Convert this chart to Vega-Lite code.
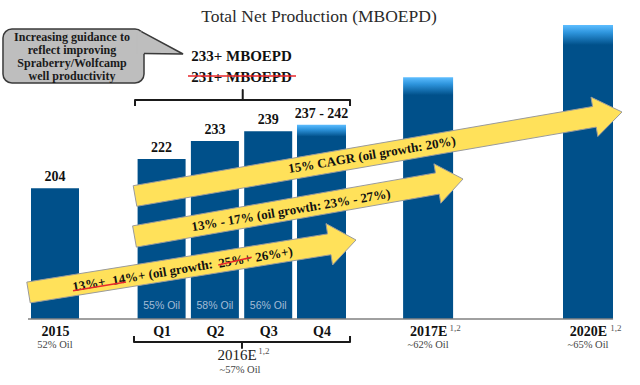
{
  "$schema": "https://vega.github.io/schema/vega-lite/v6.json",
  "width": 640,
  "height": 319,
  "padding": {"left": 0, "right": 0, "top": 0, "bottom": 66},
  "autosize": {"type": "none"},
  "background": "white",
  "config": {"view": {"stroke": null}},
  "datasets": {
    "cats": [
      {"cat": "2015", "slot": 0, "value": 204, "label": "204", "fade": "none"},
      {"cat": "Q1", "slot": 2, "value": 222, "label": "222", "fade": "none"},
      {"cat": "Q2", "slot": 3, "value": 233, "label": "233", "fade": "none"},
      {"cat": "Q3", "slot": 4, "value": 239, "label": "239", "fade": "none"},
      {"cat": "Q4", "slot": 5, "value": 243, "label": "237 - 242", "fade": "short"},
      {"cat": "2017E", "slot": 7, "value": 272, "label": "", "fade": "long"},
      {"cat": "2020E", "slot": 10, "value": 304, "label": "", "fade": "long"}
    ],
    "base": [
      {"x": -0.507, "x2": 10.47, "y": 124}
    ],
    "texts": [
      {"kind": "title", "x": 4.953, "y": 308.9, "text": "Total Net Production (MBOEPD)"},
      {"kind": "callout", "x": 0.319, "y": 296.69, "text": "Increasing guidance to\nreflect improving\nSpraberry/Wolfcamp\nwell productivity"},
      {"kind": "big", "x": 3.499, "y": 285.05, "text": "233+ MBOEPD"},
      {"kind": "big", "x": 3.499, "y": 272.19, "text": "231+ MBOEPD"},
      {"kind": "year", "x": 3.415, "y": 101.95, "text": "2016E"},
      {"kind": "sup", "x": 3.921, "y": 104.4, "text": "1,2"},
      {"kind": "sup", "x": 7.505, "y": 118.49, "text": "1,2"},
      {"kind": "sup", "x": 10.525, "y": 118.49, "text": "1,2"},
      {"kind": "oil", "x": 3.471, "y": 92.77, "text": "~57% Oil"},
      {"kind": "oil", "x": 0, "y": 108.38, "text": "52% Oil"},
      {"kind": "oil", "x": 7, "y": 108.38, "text": "~62% Oil"},
      {"kind": "oil", "x": 10, "y": 108.38, "text": "~65% Oil"},
      {"kind": "inside", "x": 2, "y": 131.96, "text": "55% Oil"},
      {"kind": "inside", "x": 3, "y": 131.96, "text": "58% Oil"},
      {"kind": "inside", "x": 4, "y": 131.96, "text": "56% Oil"},
      {"kind": "arrow", "x": 5.947, "y": 224.43, "text": "15% CAGR (oil growth: 20%)"},
      {"kind": "arrow", "x": 4.428, "y": 190.44, "text": "13% - 17% (oil growth: 23% - 27%)"},
      {"kind": "arrow", "x": 0.638, "y": 145.13, "text": "13%+"},
      {"kind": "arrow", "x": 2.017, "y": 152.48, "text": "14%+ (oil growth:"},
      {"kind": "arrow", "x": 3.377, "y": 159.58, "text": "25%+"},
      {"kind": "arrow", "x": 4.109, "y": 163.44, "text": "26%+)"}
    ],
    "strikes": [
      {"x": 0.338, "y": 141.33, "x2": 1.332, "y2": 146.66},
      {"x": 3.064, "y": 157.07, "x2": 3.69, "y2": 161.78},
      {"x": 2.495, "y": 272.8, "x2": 4.522, "y2": 272.8}
    ],
    "box": [
      {"x": -0.976, "x2": 1.67, "y": 301.59, "y2": 268.52}
    ],
    "paths": [
      {"id": "tb", "i": 1, "x": 1.501, "y": 254.43},
      {"id": "tb", "i": 2, "x": 1.501, "y": 258.11},
      {"id": "tb", "i": 3, "x": 3.522, "y": 258.11},
      {"id": "tb", "i": 4, "x": 3.522, "y": 264.23},
      {"id": "tb", "i": 5, "x": 3.522, "y": 258.11},
      {"id": "tb", "i": 6, "x": 5.535, "y": 258.11},
      {"id": "tb", "i": 7, "x": 5.535, "y": 254.43},
      {"id": "bb", "i": 1, "x": 1.482, "y": 113.59},
      {"id": "bb", "i": 2, "x": 1.482, "y": 109.92},
      {"id": "bb", "i": 3, "x": 3.508, "y": 109.92},
      {"id": "bb", "i": 4, "x": 3.508, "y": 106.24},
      {"id": "bb", "i": 5, "x": 3.508, "y": 109.92},
      {"id": "bb", "i": 6, "x": 5.535, "y": 109.92},
      {"id": "bb", "i": 7, "x": 5.535, "y": 113.59},
      {"id": "pe", "i": 1, "x": 1.621, "y": 299.99},
      {"id": "pe", "i": 2, "x": 2.402, "y": 286.28},
      {"id": "pe", "i": 3, "x": 1.67, "y": 286.58}
    ],
    "polys": [
      {"id": "pf", "i": 1, "x": 1.538, "y": 299.14},
      {"id": "pf", "i": 2, "x": 1.621, "y": 299.99},
      {"id": "pf", "i": 3, "x": 2.402, "y": 286.28},
      {"id": "pf", "i": 4, "x": 1.67, "y": 286.58},
      {"id": "pf", "i": 5, "x": 1.538, "y": 286.58},
      {"id": "pf", "i": 6, "x": 1.538, "y": 299.14},
      {"id": "a1", "i": 1, "x": 1.467, "y": 205.63},
      {"id": "a1", "i": 2, "x": 10.086, "y": 254.13},
      {"id": "a1", "i": 3, "x": 10.056, "y": 259.88},
      {"id": "a1", "i": 4, "x": 10.638, "y": 250.76},
      {"id": "a1", "i": 5, "x": 10.184, "y": 235.76},
      {"id": "a1", "i": 6, "x": 10.154, "y": 241.51},
      {"id": "a1", "i": 7, "x": 1.535, "y": 193.01},
      {"id": "a1", "i": 8, "x": 1.467, "y": 205.63},
      {"id": "a2", "i": 1, "x": 1.456, "y": 181.01},
      {"id": "a2", "i": 2, "x": 7.139, "y": 213.47},
      {"id": "a2", "i": 3, "x": 7.109, "y": 219.04},
      {"id": "a2", "i": 4, "x": 7.655, "y": 209.73},
      {"id": "a2", "i": 5, "x": 7.238, "y": 194.91},
      {"id": "a2", "i": 6, "x": 7.21, "y": 200.49},
      {"id": "a2", "i": 7, "x": 1.527, "y": 168.03},
      {"id": "a2", "i": 8, "x": 1.456, "y": 181.01},
      {"id": "a3", "i": 1, "x": -0.529, "y": 146.6},
      {"id": "a3", "i": 2, "x": 5.114, "y": 176.11},
      {"id": "a3", "i": 3, "x": 5.084, "y": 182.42},
      {"id": "a3", "i": 4, "x": 5.647, "y": 172.38},
      {"id": "a3", "i": 5, "x": 5.208, "y": 157.07},
      {"id": "a3", "i": 6, "x": 5.178, "y": 163.38},
      {"id": "a3", "i": 7, "x": -0.465, "y": 133.86},
      {"id": "a3", "i": 8, "x": -0.529, "y": 146.6}
    ]
  },
  "layer": [
    {
      "data": {"name": "cats"},
      "transform": [{"filter": "datum.fade === 'none'"}],
      "mark": {"type": "bar", "width": 48, "color": "#00508A", "clip": true},
      "encoding": {
        "x": {
          "field": "slot", "type": "quantitative",
          "scale": {"domain": [-1.0319, 10.9756], "nice": false, "zero": false, "padding": 0},
          "axis": {
            "values": [0, 2, 3, 4, 5, 7, 10],
            "labelExpr": "datum.value == 0 ? '2015' : datum.value == 2 ? 'Q1' : datum.value == 3 ? 'Q2' : datum.value == 4 ? 'Q3' : datum.value == 5 ? 'Q4' : datum.value == 7 ? '2017E' : '2020E'",
            "domain": false, "ticks": false, "grid": false, "title": null, "zindex": 1,
            "labelFont": "Liberation Serif", "labelFontWeight": "bold", "labelFontSize": 14,
            "labelColor": "#111111", "labelPadding": 5, "labelOverlap": false, "labelFlush": false
          }
        },
        "y": {"field": "value", "type": "quantitative", "axis": null, "scale": {"domain": [124, 319.35], "nice": false, "zero": false, "padding": 0}}
      }
    },
    {
      "data": {"name": "cats"},
      "transform": [{"filter": "datum.fade === 'short'"}],
      "mark": {"type": "bar", "width": 49, "clip": true, "color": {"gradient": "linear", "x1": 0, "y1": 0, "x2": 0, "y2": 1, "stops": [{"offset": 0, "color": "#5DBDFF"}, {"offset": 0.012, "color": "#2E95DD"}, {"offset": 0.03, "color": "#00508A"}, {"offset": 1, "color": "#00508A"}]}},
      "encoding": {
        "x": {"field": "slot", "type": "quantitative"},
        "y": {"field": "value", "type": "quantitative", "axis": null}
      }
    },
    {
      "data": {"name": "cats"},
      "transform": [{"filter": "datum.fade === 'long'"}],
      "mark": {"type": "bar", "width": 50, "clip": true, "color": {"gradient": "linear", "x1": 0, "y1": 0, "x2": 0, "y2": 1, "stops": [{"offset": 0, "color": "#5DBDFF"}, {"offset": 0.015, "color": "#2E95DD"}, {"offset": 0.04, "color": "#00508A"}, {"offset": 1, "color": "#00508A"}]}},
      "encoding": {
        "x": {"field": "slot", "type": "quantitative"},
        "y": {"field": "value", "type": "quantitative", "axis": null}
      }
    },
    {
      "data": {"name": "base"},
      "mark": {"type": "rule", "color": "#808080", "strokeWidth": 1.5},
      "encoding": {
        "x": {"field": "x", "type": "quantitative"},
        "x2": {"field": "x2"},
        "y": {"field": "y", "type": "quantitative", "axis": null}
      }
    },
    {
      "data": {"name": "cats"},
      "mark": {"type": "text", "font": "Liberation Serif", "fontWeight": "bold", "fontSize": 14, "color": "#111111", "baseline": "middle", "align": "center", "dy": -11},
      "encoding": {
        "x": {"field": "slot", "type": "quantitative"},
        "y": {"field": "value", "type": "quantitative", "axis": null},
        "text": {"field": "label"}
      }
    },
    {
      "data": {"name": "box"},
      "mark": {"type": "rect", "fill": "#BEBEBE", "stroke": "#3A3A3A", "strokeWidth": 1.5, "cornerRadius": 9},
      "encoding": {
        "x": {"field": "x", "type": "quantitative"},
        "x2": {"field": "x2"},
        "y": {"field": "y", "type": "quantitative", "axis": null},
        "y2": {"field": "y2"}
      }
    },
    {
      "data": {"name": "polys"},
      "transform": [{"filter": "datum.id === 'pf'"}],
      "mark": {"type": "line", "fill": "#BEBEBE", "stroke": "#BEBEBE", "strokeWidth": 0.5},
      "encoding": {
        "x": {"field": "x", "type": "quantitative"},
        "y": {"field": "y", "type": "quantitative", "axis": null},
        "order": {"field": "i", "type": "quantitative"},
        "detail": {"field": "id", "type": "nominal"}
      }
    },
    {
      "data": {"name": "polys"},
      "transform": [{"filter": "datum.id !== 'pf'"}],
      "mark": {"type": "line", "fill": "#FFE15A", "stroke": "#9B9B9B", "strokeWidth": 1, "strokeJoin": "miter"},
      "encoding": {
        "x": {"field": "x", "type": "quantitative"},
        "y": {"field": "y", "type": "quantitative", "axis": null},
        "order": {"field": "i", "type": "quantitative"},
        "detail": {"field": "id", "type": "nominal"}
      }
    },
    {
      "data": {"name": "paths"},
      "transform": [{"filter": "datum.id === 'pe'"}],
      "mark": {"type": "line", "color": "#3A3A3A", "strokeWidth": 1.5, "strokeJoin": "miter"},
      "encoding": {
        "x": {"field": "x", "type": "quantitative"},
        "y": {"field": "y", "type": "quantitative", "axis": null},
        "order": {"field": "i", "type": "quantitative"},
        "detail": {"field": "id", "type": "nominal"}
      }
    },
    {
      "data": {"name": "paths"},
      "transform": [{"filter": "datum.id !== 'pe'"}],
      "mark": {"type": "line", "color": "#1A1A1A", "strokeWidth": 2, "strokeJoin": "round"},
      "encoding": {
        "x": {"field": "x", "type": "quantitative"},
        "y": {"field": "y", "type": "quantitative", "axis": null},
        "order": {"field": "i", "type": "quantitative"},
        "detail": {"field": "id", "type": "nominal"}
      }
    },
    {
      "data": {"name": "texts"},
      "transform": [{"filter": "datum.kind === 'title'"}],
      "mark": {"type": "text", "font": "Liberation Serif", "fontSize": 17.5, "color": "#2B2B2B", "baseline": "middle", "align": "center"},
      "encoding": {
        "x": {"field": "x", "type": "quantitative"},
        "y": {"field": "y", "type": "quantitative", "axis": null},
        "text": {"field": "text"}
      }
    },
    {
      "data": {"name": "texts"},
      "transform": [{"filter": "datum.kind === 'callout'"}],
      "mark": {"type": "text", "font": "Liberation Serif", "fontWeight": "bold", "fontSize": 12, "color": "#1A1A1A", "baseline": "middle", "align": "center", "lineBreak": "\n", "lineHeight": 13},
      "encoding": {
        "x": {"field": "x", "type": "quantitative"},
        "y": {"field": "y", "type": "quantitative", "axis": null},
        "text": {"field": "text"}
      }
    },
    {
      "data": {"name": "texts"},
      "transform": [{"filter": "datum.kind === 'big'"}],
      "mark": {"type": "text", "font": "Liberation Serif", "fontWeight": "bold", "fontSize": 15, "color": "#111111", "baseline": "middle", "align": "center"},
      "encoding": {
        "x": {"field": "x", "type": "quantitative"},
        "y": {"field": "y", "type": "quantitative", "axis": null},
        "text": {"field": "text"}
      }
    },
    {
      "data": {"name": "texts"},
      "transform": [{"filter": "datum.kind === 'year'"}],
      "mark": {"type": "text", "font": "Liberation Serif", "fontSize": 15, "color": "#222222", "baseline": "middle", "align": "center"},
      "encoding": {
        "x": {"field": "x", "type": "quantitative"},
        "y": {"field": "y", "type": "quantitative", "axis": null},
        "text": {"field": "text"}
      }
    },
    {
      "data": {"name": "texts"},
      "transform": [{"filter": "datum.kind === 'sup'"}],
      "mark": {"type": "text", "font": "Liberation Serif", "fontSize": 9, "color": "#555555", "baseline": "middle", "align": "center"},
      "encoding": {
        "x": {"field": "x", "type": "quantitative"},
        "y": {"field": "y", "type": "quantitative", "axis": null},
        "text": {"field": "text"}
      }
    },
    {
      "data": {"name": "texts"},
      "transform": [{"filter": "datum.kind === 'oil'"}],
      "mark": {"type": "text", "font": "Liberation Serif", "fontSize": 10.5, "color": "#444444", "baseline": "middle", "align": "center"},
      "encoding": {
        "x": {"field": "x", "type": "quantitative"},
        "y": {"field": "y", "type": "quantitative", "axis": null},
        "text": {"field": "text"}
      }
    },
    {
      "data": {"name": "texts"},
      "transform": [{"filter": "datum.kind === 'inside'"}],
      "mark": {"type": "text", "font": "Liberation Sans", "fontSize": 10.5, "color": "#A3BCD6", "baseline": "middle", "align": "center"},
      "encoding": {
        "x": {"field": "x", "type": "quantitative"},
        "y": {"field": "y", "type": "quantitative", "axis": null},
        "text": {"field": "text"}
      }
    },
    {
      "data": {"name": "texts"},
      "transform": [{"filter": "datum.kind === 'arrow'"}],
      "mark": {"type": "text", "font": "Liberation Serif", "fontWeight": "bold", "fontSize": 13, "color": "#111111", "baseline": "middle", "align": "center", "angle": 350.4},
      "encoding": {
        "x": {"field": "x", "type": "quantitative"},
        "y": {"field": "y", "type": "quantitative", "axis": null},
        "text": {"field": "text"}
      }
    },
    {
      "data": {"name": "strikes"},
      "mark": {"type": "rule", "color": "#E8262B", "strokeWidth": 1.5},
      "encoding": {
        "x": {"field": "x", "type": "quantitative"},
        "y": {"field": "y", "type": "quantitative", "axis": null},
        "x2": {"field": "x2"},
        "y2": {"field": "y2"}
      }
    }
  ]
}
